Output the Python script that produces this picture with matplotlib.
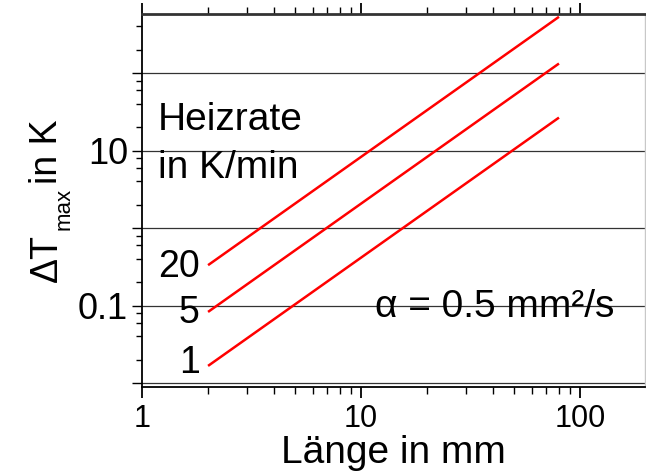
import matplotlib
matplotlib.use("Agg")
import matplotlib.pyplot as plt
from matplotlib.ticker import LogLocator, FixedLocator, NullFormatter, FixedFormatter

plt.rcParams['font.family'] = ['Liberation Sans', 'DejaVu Sans']

# Data
length_mm = [2, 80]
rate_labels = ["20", "5", "1"]
dT_rate20 = [0.333, 533]
dT_rate5 = [0.083, 133]
dT_rate1 = [0.0167, 26.7]

x_ticks = [1, 10, 100]
x_tick_labels = ["1", "10", "100"]
y_grid = [0.01, 0.1, 1, 10, 100]
y_tick_labels = ["", "0.1", "", "10", ""]

W, H = 646, 471
fig = plt.figure(figsize=(W / 100, H / 100), dpi=100)
ax = fig.add_axes([0.220, 0.178, 0.778, 0.792])
ax.set_xscale('log')
ax.set_yscale('log')
ax.set_xlim(1, 197)
ax.set_ylim(0.00888, 577)

for series in (dT_rate20, dT_rate5, dT_rate1):
    ax.plot(length_mm, series, color='#ff0000', lw=1.8, solid_capstyle='butt', zorder=3)

# horizontal grid lines
for yv in y_grid:
    ax.axhline(yv, color='#333333', lw=0.9, zorder=1)

ax.xaxis.set_major_locator(FixedLocator(x_ticks))
ax.xaxis.set_major_formatter(FixedFormatter(x_tick_labels))
ax.xaxis.set_minor_locator(LogLocator(base=10, subs=range(2, 10)))
ax.xaxis.set_minor_formatter(NullFormatter())
ax.yaxis.set_major_locator(FixedLocator(y_grid))
ax.yaxis.set_major_formatter(FixedFormatter(y_tick_labels))
ax.yaxis.set_minor_locator(LogLocator(base=10, subs=[2, 4, 6, 8]))
ax.yaxis.set_minor_formatter(NullFormatter())

ax.tick_params(axis='x', which='both', direction='out', top=True, bottom=True,
               labelsize=22, pad=4, color='black')
ax.tick_params(axis='x', which='major', length=8, width=1.3)
ax.tick_params(axis='x', which='minor', length=5, width=1.0)
ax.tick_params(axis='y', which='both', direction='out', left=True, right=False,
               labelsize=26, pad=3)
ax.tick_params(axis='y', which='major', length=7, width=1.0)
ax.tick_params(axis='y', which='minor', length=4, width=1.0)

for side in ('left', 'bottom'):
    ax.spines[side].set_color('black')
    ax.spines[side].set_linewidth(1.3)
ax.spines['top'].set_color('#333333')
ax.spines['top'].set_linewidth(2.0)
ax.spines['right'].set_color('#c8c8c8')
ax.spines['right'].set_linewidth(1.0)

ax.set_xlabel('Länge in mm', fontsize=28, labelpad=1)

# y label built from pieces so that the subscript sits low like in the original
def ftext(px, py, s, size):
    fig.text(px / W, 1 - py / H, s, fontsize=size, rotation=90,
             rotation_mode='anchor', ha='left', va='baseline')

ftext(57, 282, 'ΔT', 27)
ftext(70, 230, 'max', 16)
ftext(57, 184, 'in K', 27)

fs = 28
ax.text(1.18, 18.4, 'Heizrate', fontsize=fs, ha='left', va='baseline')
ax.text(1.18, 4.4, 'in K/min', fontsize=fs, ha='left', va='baseline')
label_y = [0.314, 0.08, 0.018]
for lab, yv in zip(rate_labels, label_y):
    ax.text(1.83, yv, lab, fontsize=27, ha='right', va='center')
ax.text(40.8, 0.071, 'α = 0.5 mm²/s', fontsize=fs, ha='center', va='baseline')

fig.savefig('out.png', dpi=100)
